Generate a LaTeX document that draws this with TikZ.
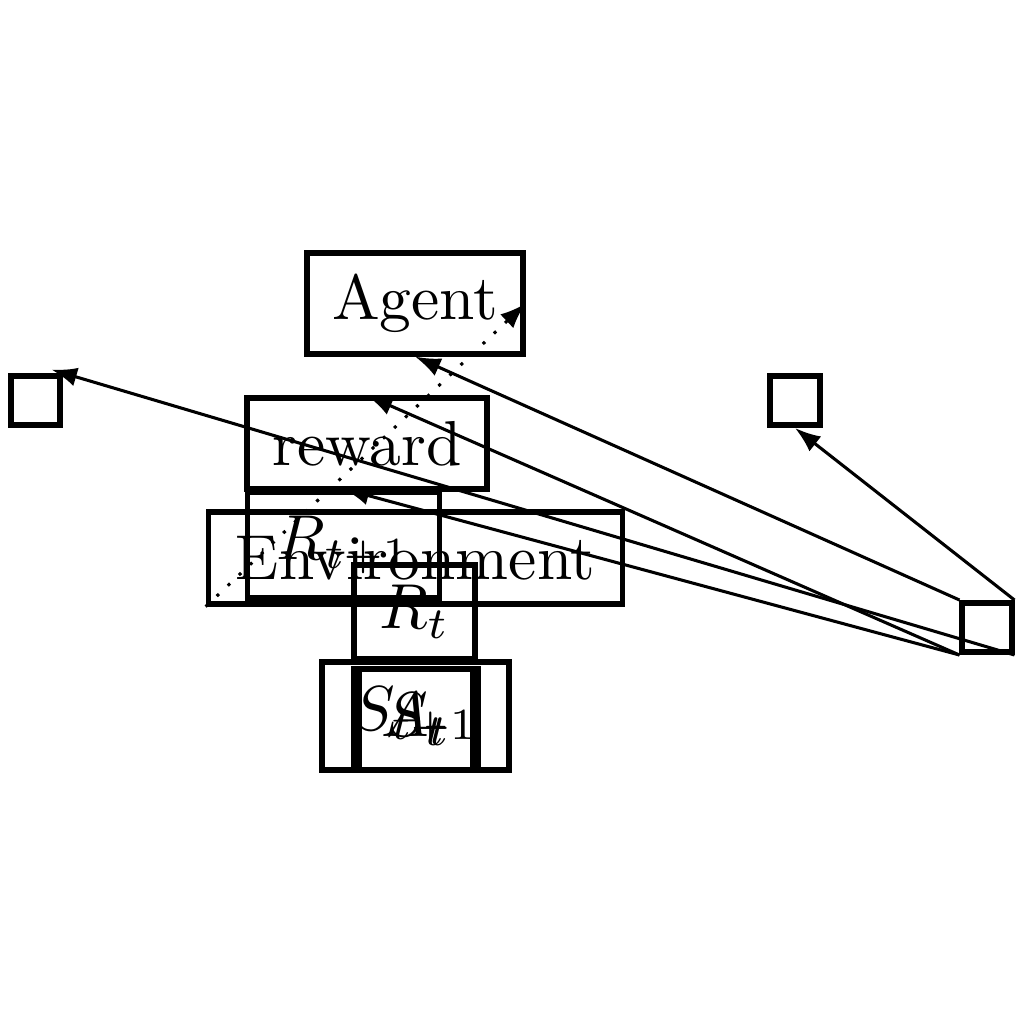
\RequirePackage{fix-cm}
\documentclass[tikz,border=0pt]{standalone}
\usetikzlibrary{arrows.meta}
\begin{document}
\begin{tikzpicture}[x=0.005747cm, y=-0.005747cm,
  box/.style={draw, line width=0.95pt, inner sep=0pt, font=\fontsize{10.4pt}{12.5pt}\selectfont},
  link/.style={line width=0.5pt, -{Latex[length=4.2pt,width=3.1pt]}}]
\useasboundingbox (0,0) rectangle (1024,1024);
% nodes
\node[box, minimum width=1.238cm, minimum height=0.577cm] (agent) at (415,303.5) {Agent};
\node[box, minimum width=1.376cm, minimum height=0.519cm] (reward) at (367,443.5) {reward};
\node[box, minimum width=1.105cm, minimum height=0.612cm] (rt1) at (343.5,545) {$R_{t+1}$};
\node[box, minimum width=2.381cm, minimum height=0.526cm] (env) at (415.5,558) {Environment};
\node[box, minimum width=0.700cm, minimum height=0.545cm] (rt) at (414.5,612) {$R_t$};
\node[box, minimum width=1.080cm, minimum height=0.625cm] (st1) at (415.5,716) {$S_{t+1}$};
\node[box, minimum width=0.710cm, minimum height=0.578cm] (st) at (416,719.5) {$S_t$};
\node[box, minimum width=0.652cm, minimum height=0.578cm] (at) at (416,719.5) {$A_t$};
\node[box, minimum width=0.283cm, minimum height=0.283cm] (sqa) at (35.5,400.5) {};
\node[box, minimum width=0.283cm, minimum height=0.283cm] (sqb) at (795,400.5) {};
\node[box, minimum width=0.283cm, minimum height=0.283cm] (sqc) at (987,627.5) {};
% connectors
\draw[link] (sqc.north west) -- (agent.south);
\draw[link] (sqc.north east) -- (sqb.south);
\draw[link] (sqc.south west) -- (reward.north);
\draw[link] (sqc.south west) -- (rt1.north);
\draw[link, shorten >=-0.07cm] (sqc.south east) -- (sqa.north east);
\draw[link, dotted] (env.south west) -- (agent.east);
\end{tikzpicture}
\end{document}
